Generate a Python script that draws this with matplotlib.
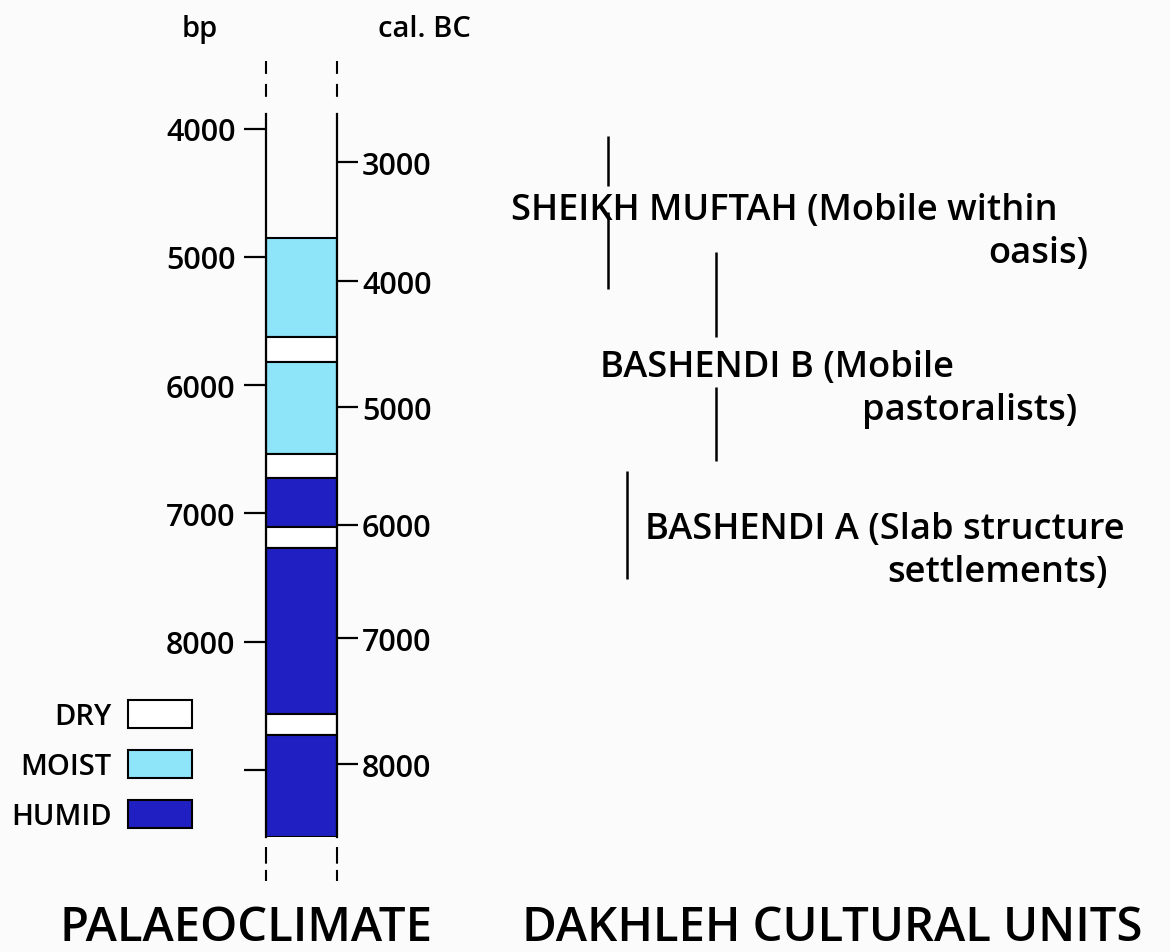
import matplotlib
matplotlib.use("Agg")
import matplotlib.pyplot as plt
from matplotlib.patches import Patch

plt.rcParams['font.family'] = ['Open Sans', 'DejaVu Sans']
plt.rcParams['font.weight'] = 'semibold'

# ---------------- data ----------------
# climate phases, boundaries in years bp (top -> bottom)
phase_start = [4852, 5624, 5819, 6537, 6724, 7106, 7270, 8564, 8728]
phase_end = [5624, 5819, 6537, 6724, 7106, 7270, 8564, 8728, 9523]
phase_type = ['MOIST', 'DRY', 'MOIST', 'DRY', 'HUMID', 'DRY', 'HUMID', 'DRY', 'HUMID']

bp_ticks = [4000, 5000, 6000, 7000, 8000, 9000]
bp_labels = ['4000', '5000', '6000', '7000', '8000', '']

# calibrated (cal. BC) ticks and their bp-equivalent position
calbc_labels = ['3000', '4000', '5000', '6000', '7000', '8000']
calbc_pos_bp = [4260, 5188, 6170, 7090, 7972, 8954]

# cultural units (spans in bp)
unit_names = ['SHEIKH MUFTAH', 'BASHENDI B', 'BASHENDI A']
unit_start = [4057, 4961, 6669]
unit_end = [5250, 6591, 7511]

legend_types = ['DRY', 'MOIST', 'HUMID']
colors = {'DRY': '#ffffff', 'MOIST': '#8ee5f9', 'HUMID': '#2020c2'}

# ---------------- layout ----------------
W, H = 1170, 953
BG = '#fbfbfb'
fig = plt.figure(figsize=(W / 100, H / 100), dpi=100, facecolor=BG)


def fx(px):
    return px / W


def fy(py):
    return 1 - py / H


top_px, bot_px = 115, 838
ylim = (9523, 3885)

ax = fig.add_axes([fx(266), fy(bot_px), (337 - 266) / W, (bot_px - top_px) / H])
ax.set_facecolor(BG)
ax.set_xlim(0, 1)
ax.set_ylim(*ylim)

for s, e, t in zip(phase_start, phase_end, phase_type):
    ax.bar(0.5, e - s, bottom=s, width=1.0, color=colors[t],
           edgecolor='black', linewidth=1.5, zorder=2)

for sp in ['top', 'bottom']:
    ax.spines[sp].set_visible(False)
for sp in ['left', 'right']:
    ax.spines[sp].set_linewidth(1.6)
    ax.spines[sp].set_zorder(3)

ax.set_xticks([])
ax.set_yticks(bp_ticks)
ax.set_yticklabels(bp_labels)
ax.tick_params(axis='y', direction='out', length=16, width=1.6, pad=6,
               labelsize=22, colors='black')

axr = ax.twinx()
axr.set_ylim(*ylim)
for sp in axr.spines.values():
    sp.set_visible(False)
axr.set_yticks(calbc_pos_bp)
axr.set_yticklabels(calbc_labels)
axr.tick_params(axis='y', direction='out', length=15, width=1.6, pad=3,
                labelsize=22, colors='black')

# dashed continuation of the column above and below
for xv in (0, 1):
    ax.plot([xv, xv], [3472, 3768], color='black', lw=1.5,
            ls=(0, (6.2, 4.8)), clip_on=False)
    ax.plot([xv, xv], [9601, 9866], color='black', lw=1.5,
            ls=(0, (8, 3)), clip_on=False)

# legend
handles = [Patch(facecolor=colors[t], edgecolor='black', linewidth=1.5)
           for t in legend_types]
fig.legend(handles, legend_types, loc='upper right',
           bbox_to_anchor=(fx(192), fy(701)), frameon=False, markerfirst=False,
           fontsize=21, handlelength=2.2, handleheight=1.1, labelspacing=0.66,
           handletextpad=0.55, borderpad=0, borderaxespad=0)

# axis headers
fig.text(fx(200), fy(37), 'bp', ha='center', va='baseline', fontsize=21)
fig.text(fx(424), fy(37), 'cal. BC', ha='center', va='baseline', fontsize=21)

# cultural units
ax2 = fig.add_axes([fx(500), fy(bot_px), 670 / W, (bot_px - top_px) / H],
                   sharey=ax)
ax2.set_xlim(500, 1170)
ax2.axis('off')

unit_line_x = [608, 716, 627]
gap_center = [4548, 5819, None]
gap_half = [100, 195, 0]
for x, s, e, gc, gh in zip(unit_line_x, unit_start, unit_end, gap_center, gap_half):
    if gc is None:
        ax2.vlines(x, s, e, color='black', lw=1.8)
    else:
        ax2.vlines(x, s, gc - gh, color='black', lw=1.8)
        ax2.vlines(x, gc + gh, e, color='black', lw=1.8)

txt_kw = dict(fontsize=26.1, va='baseline')
fig.text(fx(511), fy(220), unit_names[0] + ' (Mobile within', ha='left', **txt_kw)
fig.text(fx(1088), fy(263), 'oasis)', ha='right', **txt_kw)
fig.text(fx(600), fy(377), unit_names[1] + ' (Mobile', ha='left', **txt_kw)
fig.text(fx(1077), fy(420), 'pastoralists)', ha='right', **txt_kw)
fig.text(fx(645), fy(539), unit_names[2] + ' (Slab structure', ha='left', **txt_kw)
fig.text(fx(1108), fy(582), 'settlements)', ha='right', **txt_kw)

# titles
fig.text(fx(246), fy(941), 'PALAEOCLIMATE', ha='center', va='baseline', fontsize=34)
fig.text(fx(832), fy(941), 'DAKHLEH CULTURAL UNITS', ha='center', va='baseline',
         fontsize=34)

fig.savefig('out.png', dpi=100, facecolor=BG)
